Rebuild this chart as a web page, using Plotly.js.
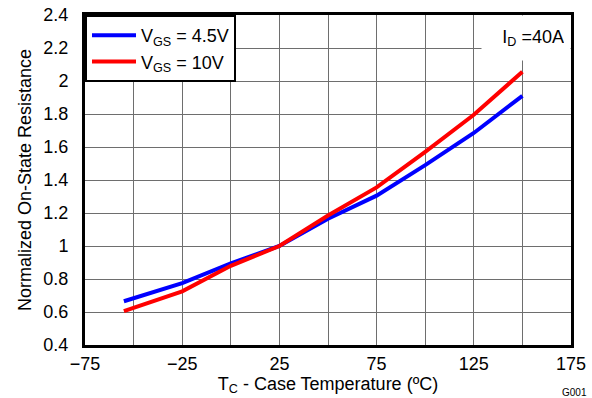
<!DOCTYPE html>
<html>
<head>
<meta charset="utf-8">
<script src="https://cdn.plot.ly/plotly-3.0.1.min.js"></script>
<style>html,body{margin:0;padding:0;background:#fff;}#chart{width:592px;height:398px;}</style>
</head>
<body>
<div id="chart"></div>
<script>
const temps = [-55, -25, 0, 25, 50, 75, 100, 125, 150];
const rdsVgs45 = [0.665, 0.775, 0.895, 1.0, 1.165, 1.305, 1.49, 1.685, 1.91];
const rdsVgs10 = [0.605, 0.725, 0.88, 1.0, 1.185, 1.355, 1.57, 1.795, 2.056];
const seriesNames = ['V<sub>GS</sub> = 4.5V', 'V<sub>GS</sub> = 10V'];
const xTickVals = [-75, -50, -25, 0, 25, 50, 75, 100, 125, 150, 175];
const xTickText = ['\u221275', '', '\u221225', '', '25', '', '75', '', '125', '', '175'];
const yTickVals = [0.4, 0.6, 0.8, 1, 1.2, 1.4, 1.6, 1.8, 2, 2.2, 2.4];
const yTickText = ['0.4', '0.6', '0.8', '1', '1.2', '1.4', '1.6', '1.8', '2', '2.2', '2.4'];

const fontFam = 'Liberation Sans, Arial, sans-serif';
const data = [
  {x: temps, y: rdsVgs45, name: seriesNames[0], mode: 'lines', line: {color: '#0000ff', width: 4}},
  {x: temps, y: rdsVgs10, name: seriesNames[1], mode: 'lines', line: {color: '#ff0000', width: 4}}
];
const layout = {
  width: 592, height: 398,
  margin: {l: 85, r: 21, t: 15, b: 53},
  paper_bgcolor: '#fff', plot_bgcolor: '#fff',
  font: {family: fontFam, size: 18, color: '#000'},
  showlegend: true,
  legend: {x: 0, y: 1, xanchor: 'left', yanchor: 'top', bgcolor: '#fff', bordercolor: '#000', borderwidth: 2,
           font: {size: 18}, tracegroupgap: 0, itemwidth: 44},
  xaxis: {range: [-75, 175], tickvals: xTickVals, ticktext: xTickText, showgrid: true, gridcolor: '#6e6e6e', gridwidth: 1,
          zeroline: false, showline: true, linecolor: '#000', linewidth: 3, mirror: true, ticks: '',
          ticklabelstandoff: 0, tickfont: {size: 18},
          title: {text: 'T<sub>C</sub> - Case Temperature (\u00baC)', font: {size: 18}, standoff: 0}},
  yaxis: {range: [0.4, 2.4], tickvals: yTickVals, ticktext: yTickText, showgrid: true, gridcolor: '#6e6e6e', gridwidth: 1,
          zeroline: false, showline: true, linecolor: '#000', linewidth: 3, mirror: true, ticks: '',
          ticklabelstandoff: 10, tickfont: {size: 18},
          title: {text: 'Normalized On-State Resistance', font: {size: 18}, standoff: 8}},
  annotations: [
    {xref: 'paper', yref: 'paper', x: 1, y: 1, xanchor: 'right', yanchor: 'top', showarrow: false,
     text: 'I<sub>D</sub> =40A', bgcolor: '#fff', width: 76, height: 32, align: 'right', valign: 'middle',
     borderpad: 6, font: {size: 18}},
    {xref: 'paper', yref: 'paper', x: 1.037, y: -0.145, xanchor: 'right', yanchor: 'middle', showarrow: false,
     text: 'G001', font: {size: 10}}
  ]
};
Plotly.newPlot('chart', data, layout, {staticPlot: true, displayModeBar: false});
</script>
</body>
</html>
